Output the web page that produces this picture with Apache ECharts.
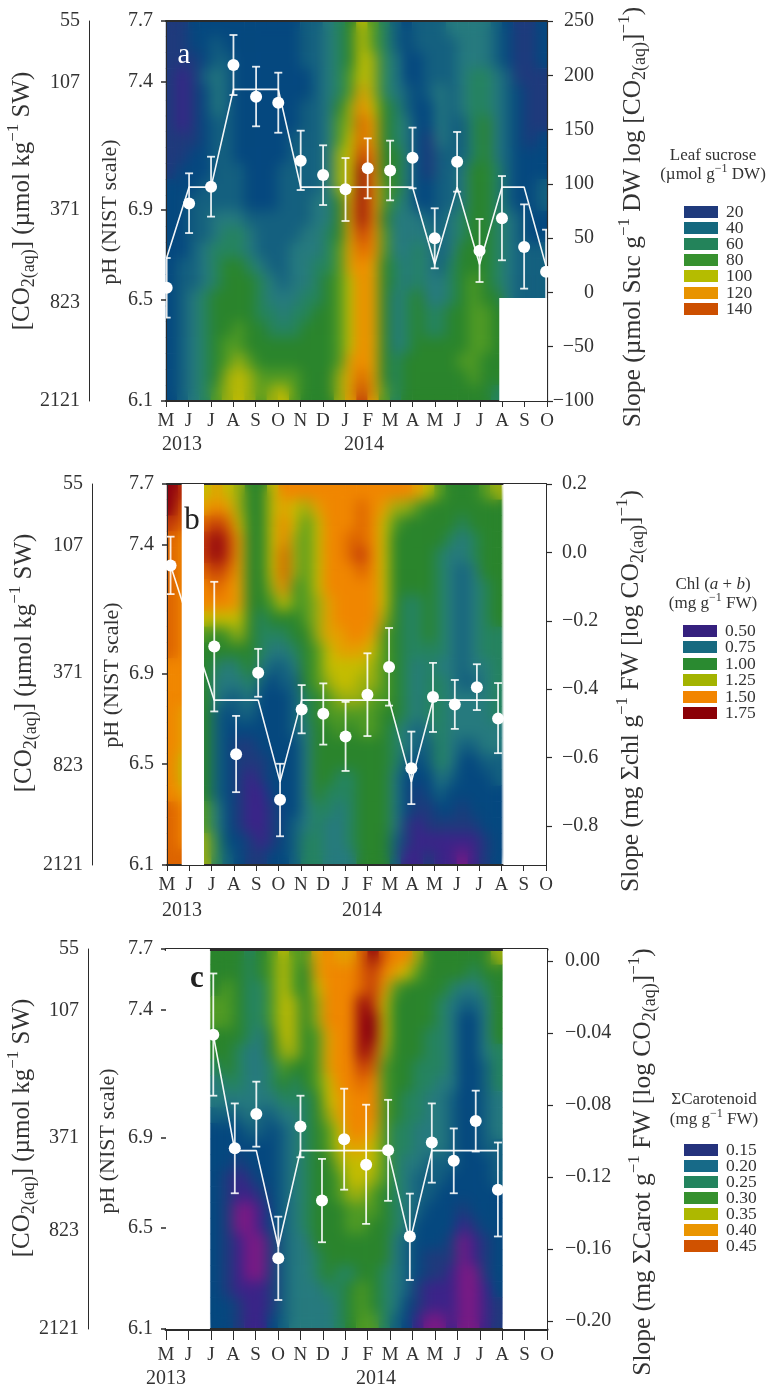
<!DOCTYPE html>
<html>
<head>
<meta charset="utf-8">
<style>html,body{margin:0;padding:0;background:#fff}#c{width:768px;height:1390px}</style>
<script src="https://cdn.jsdelivr.net/npm/echarts@6/dist/echarts.min.js"></script>
</head>
<body>
<div id="c"></div>
<script>
const months = ['M','J','J','A','S','O','N','D','J','F','M','A','M','J','J','A','S','O'];
const pHLabels = ['7.7','7.4','6.9','6.5','6.1'];
const pHTicks = [0,61,189,279,380];
const co2Labels = ['55','107','371','823','2121'];
const co2Ticks = [0,62,189,282,381];

// Contour band index per half-month column (34) and depth row (24); '.' = no data
const sucroseBands = [
"2233 3333 3333 4456 7a86 4344 4555 5432 23",
"2233 4333 3333 4456 7a86 4344 4455 5432 23",
"2223 4433 3333 4456 7a96 5334 4455 5432 23",
"2124 5433 3333 3456 8a96 5334 4456 6542 22",
"2123 5433 3333 3456 8b96 5434 5456 6543 22",
"2123 5433 3333 4457 9ca7 6433 5456 6543 22",
"2123 4433 3333 4458 9db7 6533 5446 7543 22",
"2223 4433 3334 4458 adb7 6532 5446 7543 23",
"2233 4433 3334 4459 aec7 7532 4446 7543 33",
"2333 4443 3344 4459 afc7 7532 4457 7643 33",
"3334 4443 3344 4459 afc8 7533 4457 7643 34",
"3344 4443 3344 4557 bfc8 6533 4457 7643 34",
"3344 5554 4444 4557 bfc7 5554 4567 7654 33",
"3344 5665 4444 5567 bec8 5555 4567 7654 33",
"3345 6665 4445 5568 bdc8 5565 4577 7654 44",
"3445 6776 5445 5668 bcb7 6565 4677 7654 44",
"3445 6777 6545 5678 acb7 6565 5678 7654 44",
"3456 7777 6555 6678 acb7 5675 5678 7754 44",
"3456 7777 6656 6778 acb7 5676 6778 87.. ..",
"3456 7787 7666 7778 acb7 5676 6778 87.. ..",
"3456 7887 7777 7778 acb7 5677 7778 87.. ..",
"3456 7898 7777 7778 bcb7 6777 7788 77.. ..",
"3456 79a9 8888 7779 bdb7 6777 7778 77.. ..",
"3456 89a9 89a8 7779 beb8 6777 7777 76.. .."
];
const chlBands = [
"fe. aba9 77ac cccc cccc cccb a877 789 ....",
"fd. bcb9 77ab a9bc ccdc b998 7777 777 ....",
"ed. deda 77ac a8ac ccdc a877 7776 777 ....",
"dc. efeb 77ac 98ac cddc a777 7765 677 ....",
"dc. efeb 77ad 98ac cdec a777 7655 677 ....",
"dc. dedb 77ad 98ac ccdc a777 7654 577 ....",
"dc. cdcb 779c 88ac cccc a777 7654 567 ....",
"dc. cccb 778a 889b cccc a766 7654 567 ....",
"dc. aaaa 7677 789b cccc 9766 7654 567 ....",
"dc. 8789 7666 779b bccb 8766 7654 566 ....",
"dc. 7777 7655 678a bbba 8766 6654 566 ....",
"cc. 7656 7544 578a aaa9 8765 6554 556 ....",
"cc. 7555 6434 4789 aa99 8765 6654 456 ....",
"cc. 7544 5333 4678 9998 8765 6655 556 ....",
"cb. 7434 4333 4678 8888 7765 6655 556 ....",
"cb. 7433 3333 4577 8788 7654 5655 555 ....",
"cb. 7432 2333 3577 7777 7654 4654 455 ....",
"ca. 7432 2233 3577 7777 7643 4653 344 ....",
"ca. 7432 1233 3577 6677 7533 3543 334 ....",
"cb. 7432 1133 3576 6677 7532 3433 333 ....",
"dc. 8532 1123 3566 5677 7532 2332 333 ....",
"dc. 8532 1123 4565 5677 7521 2222 233 ....",
"dc. 9633 2123 4665 5677 7421 1111 123 ....",
"dd. 9643 2233 4665 5577 7411 2110 123 ...."
];
const carotBands = [
".... 7776 78a8 8bcb bdfd cc97 7777 79 ....",
".... 7776 78a8 7bcc cdec ba87 7776 77 ....",
".... 7876 68a8 7acc cdeb 8777 7655 67 ....",
".... 8876 68a9 79cc cfea 7777 6544 57 ....",
".... 8876 68a9 79cc cffa 7777 6533 57 ....",
".... 7776 57a9 78bc cffa 7776 6533 57 ....",
".... 7765 5799 78bc cfe9 7776 6533 56 ....",
".... 6765 5687 78bc ced8 7766 6533 46 ....",
".... 5665 5676 78ac cdc8 7766 5533 46 ....",
".... 5555 5566 67ab ccc8 7665 5433 45 ....",
".... 4445 4455 679b ccc8 7665 5433 45 ....",
".... 3334 4345 678a ccb8 6655 5433 45 ....",
".... 3333 3345 678a bba8 6655 5433 44 ....",
".... 3323 3345 6779 aaa8 6554 4433 34 ....",
".... 3212 3345 6778 aa98 6544 4333 34 ....",
".... 3211 2345 6778 9987 6544 3333 33 ....",
".... 3200 1345 6777 8887 6543 3323 33 ....",
".... 3200 1345 6777 8877 6533 3312 33 ....",
".... 3210 0245 5777 7777 5433 3201 23 ....",
".... 3210 0245 5677 7777 5432 2201 23 ....",
".... 3210 0245 5676 6776 5432 2100 23 ....",
".... 3211 1245 5566 7876 5421 1100 13 ....",
".... 3321 1245 5556 7876 5321 1100 12 ....",
".... 3321 1345 5556 7886 4310 0100 12 ...."
];
const bandColors = ['#7a1a84','#3c2388','#1f3a7c','#05487f','#14607f','#267a7e','#25835f','#2a842c','#509a24','#9aae10','#c4bc00','#e4a000','#f08600','#dc6400','#c0380a','#8c0010'];

// Slope series: month position, mean, upper and lower error, fitted group line
const sucroseMonth = [0.03,1.03,2.01,3.01,4.02,5.01,6.01,7.01,8.01,9,10,11,11.99,12.99,13.99,14.99,15.98,16.96];
const sucroseSlope = [4.4,82,97.4,209.5,180.3,174.8,121.3,108.2,95,114.3,112.4,124.1,49.9,120.4,38.4,68.3,41.9,19.1];
const sucroseHi = [31.7,109.7,125,237.1,207.9,202.4,149,135.5,123.8,141.9,139.8,151.8,77.5,147.8,67.6,107.2,81.1,57.8];
const sucroseLo = [-23.2,54.7,69.8,181.8,153,147.1,94.3,80.5,65.8,86.7,84.8,95.9,22.2,92.8,9.6,29.6,3.5,-19.2];
const sucroseFit = [32,97,97,187,187,187,97,97,97,97,97,97,26,97,26,97,97,24];

const chlMonth = [0.16,2.12,3.1,4.09,5.07,6.04,7.01,8.01,8.99,9.96,10.96,11.93,12.91,13.9,14.85];
const chlSlope = [-0.038,-0.275,-0.59,-0.352,-0.723,-0.459,-0.472,-0.538,-0.416,-0.335,-0.631,-0.423,-0.445,-0.394,-0.486];
const chlHi = [0.046,-0.086,-0.478,-0.282,-0.618,-0.388,-0.383,-0.437,-0.295,-0.221,-0.524,-0.323,-0.373,-0.327,-0.382];
const chlLo = [-0.122,-0.465,-0.701,-0.422,-0.83,-0.529,-0.562,-0.639,-0.537,-0.448,-0.736,-0.525,-0.516,-0.461,-0.587];
const chlFit = [-0.038,-0.432,-0.432,-0.432,-0.671,-0.432,-0.432,-0.432,-0.432,-0.432,-0.671,-0.432,-0.432,-0.432,-0.432];

const carotMonth = [2.11,3.07,4.03,5.01,6,6.96,7.95,8.93,9.91,10.88,11.86,12.84,13.82,14.81];
const carotSlope = [-0.0409,-0.104,-0.0849,-0.1651,-0.0919,-0.133,-0.099,-0.1131,-0.1051,-0.153,-0.1008,-0.1109,-0.0889,-0.127];
const carotHi = [-0.0069,-0.0791,-0.067,-0.142,-0.0748,-0.1099,-0.0709,-0.0798,-0.0771,-0.1292,-0.0791,-0.093,-0.072,-0.1008];
const carotLo = [-0.0748,-0.129,-0.1031,-0.1883,-0.109,-0.1562,-0.127,-0.146,-0.1332,-0.1772,-0.1231,-0.129,-0.1058,-0.153];
const carotFit = [-0.041,-0.1053,-0.1053,-0.1588,-0.1053,-0.1053,-0.1053,-0.1053,-0.1053,-0.156,-0.1053,-0.1053,-0.1053,-0.1053];

const sucroseTicks = [250,200,150,100,50,0,-50,-100];
const chlTicks = [0.2,0,-0.2,-0.4,-0.6,-0.8];
const carotTicks = [0,-0.04,-0.08,-0.12,-0.16,-0.2];

const sucroseLegend = ['20','40','60','80','100','120','140'];
const sucroseLegendColors = ['#1f3a7c','#14687e','#23835a','#37912f','#b5bc00','#e89300','#cc4f00'];
const chlLegend = ['0.50','0.75','1.00','1.25','1.50','1.75'];
const chlLegendColors = ['#35207e','#176a80','#2a8a30','#a3b300','#f28500','#8a0006'];
const carotLegend = ['0.15','0.20','0.25','0.30','0.35','0.40','0.45'];
const carotLegendColors = ['#24327c','#176a88','#23845e','#35902e','#adb800','#ea9500','#d05200'];

const SERIF = '"Liberation Serif","Times New Roman",serif';
const INK = '#333';
const panels = [
  {grid:{left:166,top:21,width:381,height:380},bands:sucroseBands,month:sucroseMonth,slope:sucroseSlope,hi:sucroseHi,lo:sucroseLo,fit:sucroseFit,
   ticks:sucroseTicks,min:-100,max:250,fmt:v=>fmtMinus(String(v)),labelAlign:'right',labelMargin:47,co2Offset:77,xMargin:11,tickLen:6,rightWidth:1.2,frameWidth:2,
   gaps:[[14.87,17,-5.1,-100]]},
  {grid:{left:167,top:484,width:379,height:381},bands:chlBands,month:chlMonth,slope:chlSlope,hi:chlHi,lo:chlLo,fit:chlFit,
   ticks:chlTicks,min:-0.914,max:0.2,fmt:v=>fmtMinus(v.toFixed(1)),labelAlign:'left',labelMargin:16,co2Offset:75,xMargin:11,tickLen:6,rightWidth:2,frameWidth:2,
   gaps:[[0.66,1.66,0.2,-0.914],[15.09,17,0.2,-0.914]]},
  {grid:{left:166,top:949,width:381,height:380},bands:carotBands,month:carotMonth,slope:carotSlope,hi:carotHi,lo:carotLo,fit:carotFit,
   ticks:carotTicks,min:-0.2044,max:0.0067,fmt:v=>fmtMinus(v.toFixed(2)),labelAlign:'left',labelMargin:18,co2Offset:78,xMargin:17,tickLen:11,rightWidth:2,frameWidth:3,
   gaps:[[0,1.96,0.0067,-0.2044],[15.03,17,0.0067,-0.2044]]}
];
function fmtMinus(s){return s.replace('-','\u2212');}

const xAxes=[],yAxes=[],grids=[],series=[],heatIdx=[];
panels.forEach((p,i)=>{
  const rows=p.bands.map(r=>r.replace(/ /g,''));
  const cols=rows[0].length;
  grids.push(Object.assign({},p.grid));
  xAxes.push({type:'value',gridIndex:i,min:0,max:17,interval:1,zlevel:2,position:'bottom',
    axisLine:{onZero:false,lineStyle:{color:'#2b2b2b',width:p.frameWidth}},
    axisTick:{show:true,length:p.tickLen,lineStyle:{color:'#2b2b2b',width:1}},
    splitLine:{show:false},
    axisLabel:{margin:p.xMargin,color:INK,fontFamily:SERIF,fontSize:19,formatter:v=>months[v]||''}});
  xAxes.push({type:'category',gridIndex:i,position:'top',zlevel:2,data:Array.from({length:cols},(_,k)=>k),
    axisLine:{onZero:false,lineStyle:{color:'#2b2b2b',width:p.frameWidth}},axisTick:{show:false},axisLabel:{show:false},splitLine:{show:false}});
  yAxes.push({type:'value',gridIndex:i,position:'right',min:p.min,max:p.max,zlevel:2,
    axisLine:{show:true,onZero:false,lineStyle:{color:'#2b2b2b',width:p.rightWidth}},
    axisTick:{show:true,length:6,customValues:p.ticks,lineStyle:{color:'#2b2b2b',width:1.2}},
    splitLine:{show:false},
    axisLabel:{customValues:p.ticks,align:p.labelAlign,margin:p.labelMargin,color:INK,fontFamily:SERIF,fontSize:20,formatter:v=>p.fmt(v)}});
  yAxes.push({type:'value',gridIndex:i,position:'left',min:0,max:380,inverse:true,zlevel:2,
    axisLine:{show:true,onZero:false,lineStyle:{color:'#2b2b2b',width:1}},
    axisTick:{show:true,length:5,customValues:pHTicks,lineStyle:{color:'#2b2b2b',width:1.5}},
    splitLine:{show:false},
    axisLabel:{customValues:pHTicks,margin:13,color:INK,fontFamily:SERIF,fontSize:20,formatter:v=>pHLabels[pHTicks.indexOf(v)]||''}});
  yAxes.push({type:'value',gridIndex:i,position:'left',offset:p.co2Offset,min:0,max:381,inverse:true,zlevel:2,
    axisLine:{show:true,onZero:false,lineStyle:{color:'#2b2b2b',width:1}},
    axisTick:{show:false},splitLine:{show:false},
    axisLabel:{customValues:co2Ticks,margin:9,color:INK,fontFamily:SERIF,fontSize:20,formatter:v=>co2Labels[co2Ticks.indexOf(v)]||''}});
  yAxes.push({type:'category',gridIndex:i,inverse:true,show:false,data:rows.map((_,k)=>k)});

  const heat=[];
  rows.forEach((r,ry)=>{[...r].forEach((ch,cx)=>{if(ch!=='.')heat.push([cx,ry,parseInt(ch,16)]);});});
  const xCat=i*2+1,yCat=i*4+3,xVal=i*2,ySlope=i*4;
  [0,1].forEach(layer=>{
    heatIdx.push(series.length);
    series.push({type:'heatmap',name:'heat'+i,xAxisIndex:xCat,yAxisIndex:yCat,data:heat,zlevel:layer,silent:true,progressive:0,animation:false,
      itemStyle:{borderWidth:0},emphasis:{disabled:true}});
  });
  series.push({type:'custom',name:'gap'+i,xAxisIndex:xVal,yAxisIndex:ySlope,zlevel:2,z:1,silent:true,data:p.gaps,encode:{x:[0,1],y:[2,3]},clip:true,
    renderItem:(params,api)=>{
      const a=api.coord([api.value(0),api.value(2)]),b=api.coord([api.value(1),api.value(3)]);
      return {type:'rect',shape:{x:a[0],y:a[1],width:b[0]-a[0],height:b[1]-a[1]},style:{fill:'#fff'}};
    }});
  series.push({type:'line',name:'fit'+i,xAxisIndex:xVal,yAxisIndex:ySlope,zlevel:2,z:3,silent:true,symbol:'none',
    data:p.month.map((m,k)=>[m,p.fit[k]]),lineStyle:{color:'#fff',width:1.6,opacity:.95},clip:true});
  series.push({type:'custom',name:'err'+i,xAxisIndex:xVal,yAxisIndex:ySlope,zlevel:2,z:4,silent:true,clip:true,
    data:p.month.map((m,k)=>[m,p.hi[k],p.lo[k]]),encode:{x:0,y:[1,2]},
    renderItem:(params,api)=>{
      const h=api.coord([api.value(0),api.value(1)]),l=api.coord([api.value(0),api.value(2)]);
      const st={stroke:'#fff',lineWidth:1.8,opacity:.88};
      return {type:'group',children:[
        {type:'line',shape:{x1:h[0],y1:h[1],x2:l[0],y2:l[1]},style:st},
        {type:'line',shape:{x1:h[0]-4,y1:h[1],x2:h[0]+4,y2:h[1]},style:st},
        {type:'line',shape:{x1:l[0]-4,y1:l[1],x2:l[0]+4,y2:l[1]},style:st}
      ]};
    }});
  series.push({type:'scatter',name:'slope'+i,xAxisIndex:xVal,yAxisIndex:ySlope,zlevel:2,z:5,silent:true,clip:true,symbolSize:12,
    data:p.month.map((m,k)=>[m,p.slope[k]]),itemStyle:{color:'#fff',opacity:1}});
});

const R=(f)=>({n:{fontFamily:SERIF,fontSize:f,fill:INK,lineHeight:f+8,verticalAlign:'middle'},
  s:{fontFamily:SERIF,fontSize:Math.round(f*.68),fill:INK,lineHeight:f+8,verticalAlign:'top'},
  b:{fontFamily:SERIF,fontSize:Math.round(f*.72),fill:INK,lineHeight:f+4,verticalAlign:'bottom'},
  i:{fontFamily:SERIF,fontStyle:'italic',fontSize:f,fill:INK,lineHeight:f+8,verticalAlign:'middle'}});
const g=[];
function txt(x,y,text,size,opt){
  opt=opt||{};
  g.push({type:'text',x,y,rotation:opt.rot?Math.PI/2:0,zlevel:2,z:20,silent:true,
    style:{text,align:opt.align||'center',verticalAlign:'middle',fill:opt.fill||INK,
      font:(opt.weight?opt.weight+' ':'')+size+'px '+SERIF,rich:R(size)}});
}
const co2Title='{n|[CO}{b|2(aq)}{n|] (\u00b5mol kg}{s|\u22121}{n| SW)}';
[[22,201],[24,663],[22,1128]].forEach(a=>txt(a[0],a[1],co2Title,25,{rot:1}));
[[110,212],[112,675],[108,1141]].forEach(a=>txt(a[0],a[1],'pH (NIST scale)',22,{rot:1}));
txt(633,217,'{n|Slope (\u00b5mol Suc g}{s|\u22121}{n| DW log [CO}{b|2(aq)}{n|]}{s|\u22121}{n|)}',25.5,{rot:1});
txt(631,691,'{n|Slope (mg \u03a3chl g}{s|\u22121}{n| FW [log CO}{b|2(aq)}{n|]}{s|\u22121}{n|)}',25.5,{rot:1});
txt(643,1162,'{n|Slope (mg \u03a3Carot g}{s|\u22121}{n| FW [log CO}{b|2(aq)}{n|]}{s|\u22121}{n|)}',25.5,{rot:1});
txt(184,55,'a',29,{fill:'#fff'});
txt(192,521,'b',31,{fill:'#222'});
txt(197,979,'c',31,{fill:'#222',weight:'bold'});
[[182,445],[364,445],[182,911],[362,911],[166,1379],[376,1379]].forEach((a,k)=>txt(a[0],a[1],k%2?'2014':'2013',20));

function legend(t1,t2,tx,ty1,ty2,labels,colors,top,steps,left){
  txt(tx,ty1,t1,17); txt(tx,ty2,t2,17);
  labels.forEach((l,k)=>{
    const y=top+steps[k];
    g.push({type:'rect',zlevel:2,silent:true,shape:{x:left,y,width:34,height:12},style:{fill:colors[k]}});
    txt(left+42,y+6,l,17.5,{align:'left'});
  });
}
legend('Leaf sucrose','{n|(\u00b5mol g}{s|\u22121}{n| DW)}',713,156,175,sucroseLegend,sucroseLegendColors,206,[0,16,32,48,64,81,97],684);
legend('{n|Chl (}{i|a}{n| + }{i|b}{n|)}','{n|(mg g}{s|\u22121}{n| FW)}',713,585,604,chlLegend,chlLegendColors,625,[0,16,33,49,66,82],683);
legend('\u03a3Carotenoid','{n|(mg g}{s|\u22121}{n| FW)}',714,1100,1120,carotLegend,carotLegendColors,1144,[0,16,32,48,64,80,96],684);

const chart=echarts.init(document.getElementById('c'),null,{renderer:'canvas',width:768,height:1390});
chart.setOption({
  animation:false,backgroundColor:'#fff',grid:grids,xAxis:xAxes,yAxis:yAxes,series,graphic:{elements:g},
  visualMap:{type:'continuous',show:false,min:0,max:15,dimension:2,seriesIndex:heatIdx,inRange:{color:bandColors}}
});
function softenHeat(){
  const layer=document.querySelector('canvas[data-zr-dom-id="zr_1"]');
  if(!layer)return;
  const clip=panels.map(p=>{const q=p.grid;return `M${q.left} ${q.top}H${q.left+q.width}V${q.top+q.height}H${q.left}Z`;}).join(' ');
  layer.style.filter='blur(7px)';
  layer.style.clipPath=`path('${clip}')`;
}
softenHeat();
chart.on('finished',softenHeat);
</script>
</body>
</html>
